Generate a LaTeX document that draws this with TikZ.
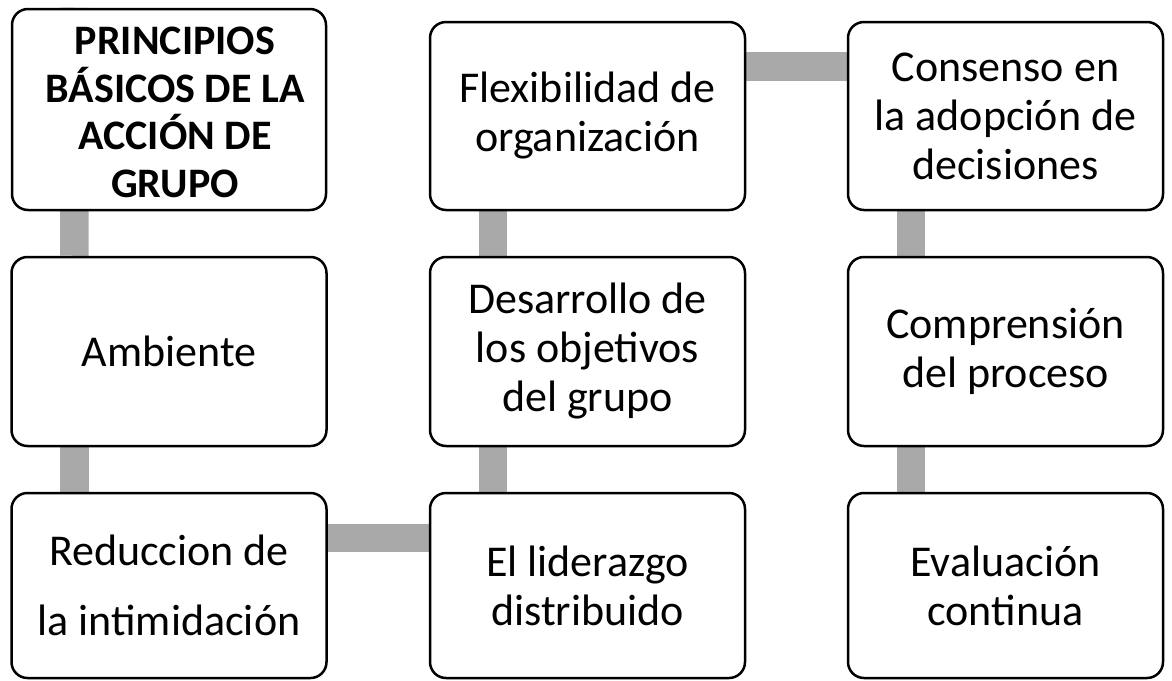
\documentclass[tikz,border=0pt]{standalone}
\usepackage{fontspec}
\setmainfont{Carlito}
\usetikzlibrary{backgrounds}
\definecolor{conngray}{RGB}{169,169,169}
\begin{document}
\begin{tikzpicture}[x=1pt,y=-1pt,
  box/.style={draw=black, line width=2.5pt, rounded corners=16pt, fill=white,
    align=center, inner sep=0pt, font=\fontsize{44}{49}\selectfont},
  r1/.style={minimum width=315pt, minimum height=188pt},
  r2/.style={minimum width=315pt, minimum height=189pt},
  r3/.style={minimum width=315pt, minimum height=185pt},
  conn/.style={draw=conngray, line width=28.5pt}]
\useasboundingbox (0,0) rectangle (1172,680);
% column 1
\node[box, minimum width=314pt, minimum height=201pt,
  font=\bfseries\fontsize{42}{47.5}\selectfont] (t) at (169,109.5)
  {\rule{0pt}{33pt}\hspace*{12pt}PRINCIPIOS\\\hspace*{12pt}BÁSICOS DE LA\\\hspace*{12pt}ACCIÓN DE\\\hspace*{12pt}GRUPO};
\node[box, r2] (amb) at (169,351.5) {Ambiente};
\node[box, r3, font=\fontsize{44}{70}\selectfont] (red) at (169,585.5) {Reduccion de\\la intimidación};
% column 2
\node[box, r3] (lid) at (587.5,585.5) {El liderazgo\\distribuido};
\node[box, r2] (des) at (587.5,351.5) {Desarrollo de\\los objetivos\\del grupo};
\node[box, r1] (flex) at (587.5,116) {Flexibilidad de\\organización};
% column 3
\node[box, r1] (con) at (1005.5,116) {Consenso en\\la adopción de\\decisiones};
\node[box, r2] (comp) at (1005.5,351.5) {Comprensión\\del proceso};
\node[box, r3] (eva) at (1005.5,585.5) {Evaluación\\continua};
% connectors
\begin{scope}[on background layer]
  \draw[conn] ([xshift=64pt]t.north west) -- ([xshift=64pt]amb.north west);
  \draw[conn] ([xshift=64pt]amb.north west) -- ([xshift=64pt]red.north west);
  \draw[conn] ([yshift=-46pt]red.north east) -- ([yshift=-46pt]lid.north west);
  \draw[conn] ([xshift=64pt]lid.north west) -- ([xshift=64pt]des.north west);
  \draw[conn] ([xshift=64pt]des.north west) -- ([xshift=64pt]flex.north west);
  \draw[conn] ([yshift=-45.5pt]flex.north east) -- ([yshift=-45.5pt]con.north west);
  \draw[conn] ([xshift=64pt]con.north west) -- ([xshift=64pt]comp.north west);
  \draw[conn] ([xshift=64pt]comp.north west) -- ([xshift=64pt]eva.north west);
\end{scope}
\end{tikzpicture}
\end{document}
